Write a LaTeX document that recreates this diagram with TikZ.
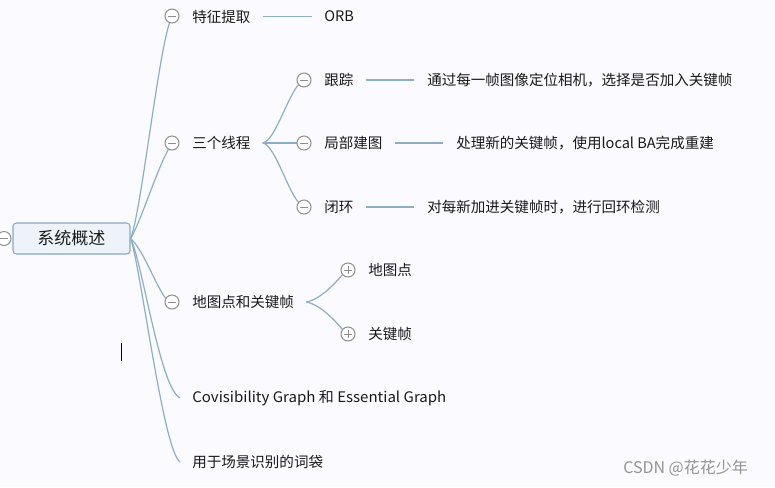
\documentclass[tikz,border=0pt]{standalone}
\usepackage{fontspec}
\setmainfont{Noto Sans CJK SC}
\definecolor{lineblue}{HTML}{8EAEC6}
\definecolor{cgray}{HTML}{8E8E8E}
\definecolor{rootfill}{HTML}{EDF3F8}
\definecolor{rootborder}{HTML}{8AA9C2}
\definecolor{txtcol}{HTML}{1A1A1A}
\pgfdeclarelayer{bg}
\pgfsetlayers{bg,main}
\begin{document}
\begin{tikzpicture}[x=0.75pt,y=-0.75pt,
  txt/.style={anchor=west, inner sep=0pt, text=txtcol, font=\fontsize{10.9}{13}\selectfont},
  br/.style={draw=lineblue, line width=0.9pt},
  minus/.style={circle, draw=cgray, fill=white, line width=0.75pt, minimum size=10.5pt, inner sep=0pt,
    path picture={\draw[cgray,line width=0.75pt] ([xshift=-3pt]path picture bounding box.center) -- ([xshift=3pt]path picture bounding box.center);}},
  plus/.style={circle, draw=cgray, fill=white, line width=0.75pt, minimum size=10.5pt, inner sep=0pt,
    path picture={\draw[cgray,line width=0.75pt] ([xshift=-3pt]path picture bounding box.center) -- ([xshift=3pt]path picture bounding box.center);
      \draw[cgray,line width=0.75pt] ([yshift=-3pt]path picture bounding box.center) -- ([yshift=3pt]path picture bounding box.center);}},
  rootbox/.style={draw=rootborder, fill=rootfill, line width=0.8pt, rounded corners=2.5pt, minimum width=87.75pt, minimum height=23.25pt, inner sep=0pt, text=txtcol, font=\fontsize{12.75}{15}\selectfont}
]
\useasboundingbox (0,0) rectangle (775,487);

% toggle circles
\node[minus] (c0) at (4,238.5) {};
% root
\node[rootbox] (root) at (71.5,238.5) {系统概述};

% level 1
\node[minus] (c1) at (172,16) {};
\node[txt] (t1) at (192,16.5) {特征提取};
\node[txt] (o1) at (324,16.5) {ORB};
\node[minus] (c2) at (172,143) {};
\node[txt] (t2) at (192,143) {三个线程};
\node[minus] (c3) at (172,302) {};
\node[txt] (t3) at (192,302) {地图点和关键帧};
\node[txt] (t4) at (192,398) {\addfontfeature{FakeStretch=1.035}Covisibility Graph 和 Essential Graph};
\node[txt] (t5) at (192,462) {用于场景识别的词袋};

% level 2
\node[minus] (c21) at (304,80) {};
\node[txt] (t21) at (324,80) {跟踪};
\node[txt] (d21) at (427,80) {通过每一帧图像定位相机，选择是否加入关键帧};
\node[minus] (c22) at (304,143) {};
\node[txt] (t22) at (324,143) {局部建图};
\node[txt] (d22) at (456,143) {处理新的关键帧，使用local BA完成重建};
\node[minus] (c23) at (304,207) {};
\node[txt] (t23) at (324,207) {闭环};
\node[txt] (d23) at (427,207) {对每新加进关键帧时，进行回环检测};
\node[plus] (c31) at (348,270) {};
\node[txt] (t31) at (368,270) {地图点};
\node[plus] (c32) at (348,334) {};
\node[txt] (t32) at (368,334) {关键帧};

\coordinate (e4) at (180,398);
\coordinate (e5) at (180,462);
\coordinate (s2) at ([xshift=9pt]t2.east);
\coordinate (s3) at ([xshift=9pt]t3.east);

\begin{pgfonlayer}{bg}
\fill[white!98!blue] (0,0) rectangle (775,487);
% main branches
\draw[br] (root.east) .. controls +(10,-23) and +(-12,37) .. (c1.-110);
\draw[br] (root.east) .. controls +(10,-16) and +(-12.5,23) .. (c2.-120);
\draw[br] (root.east) .. controls +(12,10) and +(-11,-15.5) .. (c3.150);
\draw[br] (root.east) .. controls +(12,24) and +(-20,-10) .. (e4);
\draw[br] (root.east) .. controls +(10,27) and +(-17,-12) .. (e5);
% sub branches
\draw[br] (s2) .. controls +(12,-2) and +(-12,15) .. (c21.-140);
\draw[br] (s2) -- (c22.west);
\draw[br] (s2) .. controls +(12,2) and +(-12,-15) .. (c23.140);
\draw[br] (s3) .. controls +(12,-2) and +(-10,12) .. (c31.-140);
\draw[br] (s3) .. controls +(12,2) and +(-10,-12) .. (c32.140);
% leaf lines
\draw[br, shorten <=9pt, shorten >=9pt] (t1.east) -- (o1.west);
\draw[br, shorten <=9pt, shorten >=9.75pt] (t21.east) -- (d21.west);
\draw[br, shorten <=9pt, shorten >=9.75pt] (t22.east) -- (d22.west);
\draw[br, shorten <=9pt, shorten >=9.75pt] (t23.east) -- (d23.west);
\end{pgfonlayer}

% text cursor
\draw[black, line width=0.75pt] (121.5,343) -- (121.5,361);

% watermark
\node[anchor=west, inner sep=0pt, text=black!42, font=\fontsize{12}{14}\selectfont] (wm) at (623,468) {CSDN @花花少年};
\end{tikzpicture}
\end{document}
